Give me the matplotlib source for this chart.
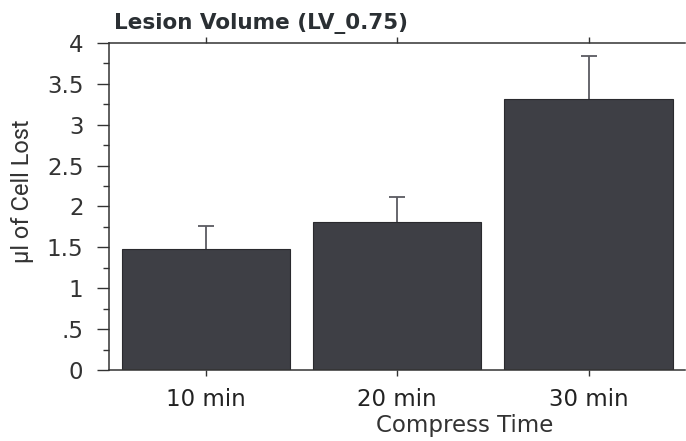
import numpy as np
import matplotlib
matplotlib.use("Agg")
import matplotlib.pyplot as plt
from matplotlib.ticker import MultipleLocator

# data
groups = ["10 min", "20 min", "30 min"]
lesion_vol = [1.48, 1.81, 3.31]
err_up = [0.28, 0.31, 0.53]
ytick_vals = [0, 0.5, 1, 1.5, 2, 2.5, 3, 3.5, 4]
ytick_text = ["0", ".5", "1", "1.5", "2", "2.5", "3", "3.5", "4"]

plt.rcParams['font.family'] = ['DejaVu Sans']

fig = plt.figure(figsize=(6.86, 4.41), dpi=100)
ax = fig.add_axes([0.159, 0.161, 0.84, 0.7415])

x = np.arange(len(groups))
vals = np.array(lesion_vol)
errs = np.array(err_up)
ax.bar(x, vals, width=0.88, color="#3e3f45", edgecolor="#2a2a2e",
       linewidth=0.8, zorder=2)
# only the upper half of the error bar is drawn
ax.vlines(x, vals, vals + errs, color="#5a5b61", linewidth=1.3, zorder=1)
ax.plot(x, vals + errs, linestyle="none", marker="_", markersize=12,
        markeredgewidth=1.3, color="#5a5b61", zorder=1)

ax.set_xlim(-0.505, 2.505)
ax.set_ylim(0, 4)
ax.set_xticks(x)
ax.set_xticklabels(groups, fontsize=16.5)
ax.set_yticks(ytick_vals)
ax.set_yticklabels(ytick_text, fontsize=16.5)
ax.yaxis.set_minor_locator(MultipleLocator(0.25))
ax.tick_params(axis="y", which="major", length=8.5, width=1, color="#333333",
               labelcolor="#333333", pad=10)
ax.tick_params(axis="y", which="minor", length=4.5, width=1, color="#333333")
ax.tick_params(axis="x", length=4, width=1, color="#333333",
               labelcolor="#222222", top=True, pad=9)

for s in ["left", "bottom", "top"]:
    ax.spines[s].set_color("#333333")
    ax.spines[s].set_linewidth(1.1)
ax.spines["right"].set_visible(False)

ax.set_ylabel("\u00b5l of Cell Lost", fontsize=17, family="Roboto",
              color="#333333")
ax.yaxis.set_label_coords(-0.13, 0.547)
ax.set_xlabel("Compress Time", fontsize=16.5, color="#333333")
ax.xaxis.set_label_coords(0.617, -0.135)
ax.set_title("Lesion Volume (LV_0.75)", fontsize=15.5, loc="left",
             color="#2a2f33", fontweight="bold", x=0.008, pad=10)

fig.savefig("out.png", dpi=100)
